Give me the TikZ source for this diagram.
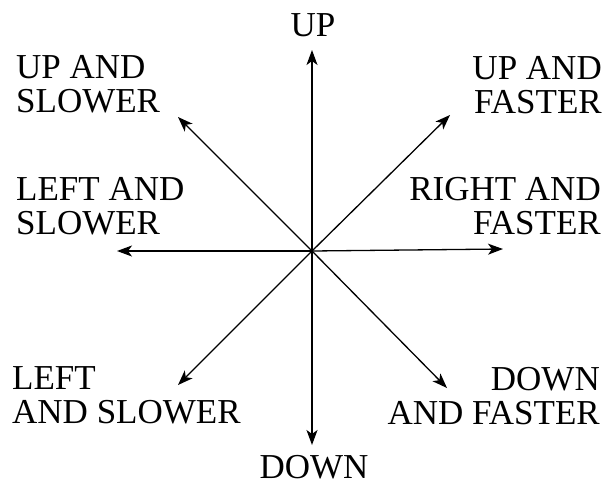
\documentclass[tikz,border=0pt]{standalone}
\usepackage{fontspec}
\setmainfont{Liberation Serif}
\usetikzlibrary{arrows.meta}
\begin{document}
\begin{tikzpicture}[x=1pt,y=-1pt,
  lbl/.style={inner sep=0pt,font=\fontsize{35}{34}\selectfont},
  arr/.style={line width=1.3pt,-{Stealth[length=15pt,width=11pt,inset=4pt]}}]
\useasboundingbox (0,0) rectangle (609,483);
\coordinate (o) at (312,251);
\coordinate (u) at (312,50);
\coordinate (d) at (312,445);
\coordinate (l) at (117,251);
\coordinate (r) at (503,249);
\coordinate (ul) at (178,117);
\coordinate (ur) at (450,115);
\coordinate (dl) at (178,385);
\coordinate (dr) at (447,388);
\foreach \p in {u,d,l,r,ul,ur,dl,dr} \draw[arr] (o) -- (\p);
\node[lbl,anchor=base] (tu) at (313,36) {UP};
\node[lbl,anchor=base] (td) at (314,478) {DOWN};
\node[lbl,anchor=north west,align=left] (tul) at (16,55) {UP AND\\SLOWER};
\node[lbl,anchor=north east,align=right] (tur) at (602,56) {UP AND\\FASTER};
\node[lbl,anchor=north west,align=left] (tl) at (16,177) {LEFT AND\\SLOWER};
\node[lbl,anchor=north east,align=right] (tr) at (601,177) {RIGHT AND\\FASTER};
\node[lbl,anchor=north west,align=left] (tdl) at (12,366) {LEFT\\AND SLOWER};
\node[lbl,anchor=north east,align=right] (tdr) at (600,367) {DOWN\\AND FASTER};
\end{tikzpicture}
\end{document}
